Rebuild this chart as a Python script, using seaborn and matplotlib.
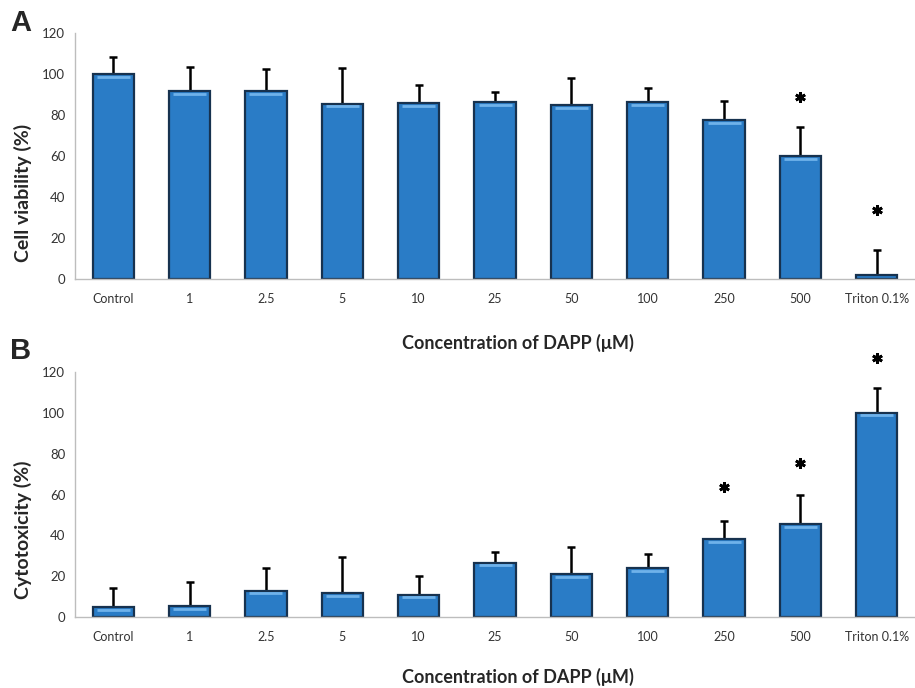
import numpy as np
import pandas as pd
import matplotlib
matplotlib.use("Agg")
import matplotlib.pyplot as plt
import seaborn as sns

# concentrations of DAPP (x categories, shared by both panels)
concentrations = ["Control", "1", "2.5", "5", "10", "25", "50", "100", "250", "500", "Triton 0.1%"]

# panel A: cell viability (%) mean and upper SD
viability_mean = [100, 91.5, 91.5, 85.5, 85.7, 86.3, 84.8, 86.3, 77.6, 59.9, 2.1]
viability_sd = [8.5, 12.0, 11.0, 17.5, 9.0, 5.0, 13.2, 7.0, 9.1, 14.2, 12.2]
# height of the significance star (None = not significant)
viability_star = [None, None, None, None, None, None, None, None, None, 88.8, 33.7]

# panel B: cytotoxicity (%) mean and upper SD
cytotox_mean = [4.9, 5.4, 13.0, 11.7, 11.0, 26.7, 21.0, 23.9, 38.1, 45.4, 100]
cytotox_sd = [9.2, 11.7, 11.2, 17.6, 9.0, 5.2, 13.3, 7.0, 9.1, 14.3, 11.9]
cytotox_star = [None, None, None, None, None, None, None, None, 63.7, 75.5, 126.7]

BAR_COLOR = "#2A7CC6"
EDGE_COLOR = "#17324f"
SPINE_COLOR = "#bdbdbd"

sns.set_style("white")
plt.rcParams['font.family'] = ['Lato', 'DejaVu Sans']

fig = plt.figure(figsize=(9.15, 6.88), dpi=100)
ax_a = fig.add_axes([0.082, 0.5945, 0.918, 0.3576])
ax_b = fig.add_axes([0.082, 0.1028, 0.918, 0.3569])


def draw_panel(ax, means, sds, stars, ylabel, label_y):
    df = pd.DataFrame({"conc": concentrations, "value": means})
    sns.barplot(data=df, x="conc", y="value", order=concentrations, color=BAR_COLOR,
                width=0.54, saturation=1, edgecolor=EDGE_COLOR, linewidth=1.6,
                errorbar=None, ax=ax, zorder=2)
    pos = np.arange(len(concentrations))
    # upper-only error bars
    ax.errorbar(pos, means, yerr=[np.zeros(len(sds)), sds], fmt="none",
                ecolor="black", elinewidth=1.8, capsize=3, capthick=1.8, zorder=1)
    # significance stars
    for p, st in zip(pos, stars):
        if st is not None:
            ax.plot(p, st, marker=(6, 2, 0), markersize=7.5, markeredgewidth=2.0,
                    color="black", clip_on=False, zorder=4)
    ax.set_xlim(-0.5, len(concentrations) - 0.5)
    ax.set_ylim(0, 120)
    ax.set_yticks(range(0, 121, 20))
    ax.set_xlabel("")
    ax.set_ylabel(ylabel, fontsize=14, fontweight="bold")
    ax.yaxis.set_label_coords(-0.051, label_y)
    ax.tick_params(axis="x", length=0, labelsize=9, colors="#333333", pad=10)
    ax.tick_params(axis="y", length=3, width=0.8, color=SPINE_COLOR, labelsize=9.5,
                   pad=4)
    for lab in ax.get_yticklabels():
        lab.set_color("#333333")
    for side in ["top", "right"]:
        ax.spines[side].set_visible(False)
    for side in ["left", "bottom"]:
        ax.spines[side].set_color(SPINE_COLOR)
        ax.spines[side].set_linewidth(1.0)
    # highlight strip near the top of each bar
    for patch in ax.patches:
        x0 = patch.get_x()
        w = patch.get_width()
        h = patch.get_height()
        if h > 3:
            ax.plot([x0 + w * 0.1, x0 + w * 0.9], [h - 1.3, h - 1.3], color="#6fb2ea",
                    linewidth=2.0, solid_capstyle="butt", zorder=3)


draw_panel(ax_a, viability_mean, viability_sd, viability_star, "Cell viability (%)", 0.35)
draw_panel(ax_b, cytotox_mean, cytotox_sd, cytotox_star, "Cytotoxicity (%)", 0.355)

fig.text(0.566, 0.5015, "Concentration of DAPP (μM)", ha="center", va="center",
         fontsize=13, fontweight="bold")
fig.text(0.566, 0.016, "Concentration of DAPP (μM)", ha="center", va="center",
         fontsize=13, fontweight="bold")

fig.text(0.011, 0.967, "A", ha="left", va="center", fontsize=21, fontweight="bold",
         family=["Liberation Sans", "DejaVu Sans"])
fig.text(0.011, 0.490, "B", ha="left", va="center", fontsize=21, fontweight="bold",
         family=["Liberation Sans", "DejaVu Sans"])

fig.savefig("out.png", dpi=100)
